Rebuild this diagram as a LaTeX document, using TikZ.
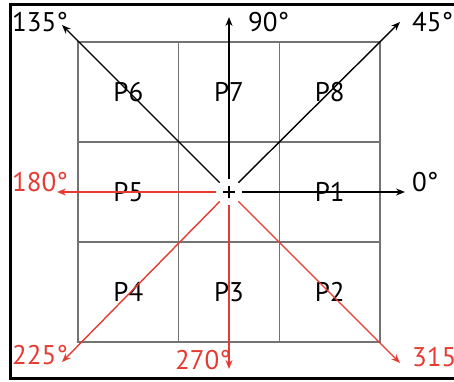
\documentclass[tikz,border=0pt]{standalone}
\usepackage{fontspec}
\setmainfont{PT Sans}
\usetikzlibrary{arrows.meta, positioning}
\definecolor{dirred}{RGB}{228,60,50}
\definecolor{gridgray}{RGB}{115,115,115}

\begin{document}
\begin{tikzpicture}[x=1pt, y=1pt, node distance=0pt, font=\fontsize{27}{30}\selectfont,
    cell/.style={draw=gridgray, line width=1.1pt, minimum width=100.67pt, minimum height=100pt, inner sep=0pt, outer sep=0pt},
    dir/.style={-{Stealth[length=9pt, width=7pt]}, line width=1.4pt},
    lbl/.style={inner sep=0pt}]
    \useasboundingbox (0,0) rectangle (454,381);
    \draw[line width=3pt] (10,3) rectangle (470,376);
    % 3x3 cells
    \node[cell] (pc) at (229,189) {};
    \node[cell, left=of pc] (p5) {P5};
    \node[cell, right=of pc] (p1) {P1};
    \node[cell, above=of pc] (p7) {P7};
    \node[cell, below=of pc] (p3) {P3};
    \node[cell, left=of p7] (p6) {P6};
    \node[cell, right=of p7] (p8) {P8};
    \node[cell, left=of p3] (p4) {P4};
    \node[cell, right=of p3] (p2) {P2};
    % centre with gap and cross
    \node[circle, fill=white, minimum size=26pt, inner sep=0pt] (o) at (pc.center) {};
    \draw[line width=1.3pt] ([xshift=-6pt]o.center) -- ([xshift=6pt]o.center);
    \draw[line width=1.3pt] ([yshift=-6pt]o.center) -- ([yshift=6pt]o.center);
    % arrow ends
    \coordinate (e0) at (405,189);
    \coordinate (e45) at (400,359);
    \coordinate (e90) at (229,364);
    \coordinate (e135) at (62,356);
    \coordinate (e180) at (57,189);
    \coordinate (e225) at (62,19);
    \coordinate (e270) at (229,12);
    \coordinate (e315) at (400,18);
    \draw[dir] (o) -- (e0);
    \draw[dir] (o) -- (e45);
    \draw[dir] (o) -- (e90);
    \draw[dir] (o) -- (e135);
    \draw[dir, dirred] (o) -- (e180);
    \draw[dir, dirred] (o) -- (e225);
    \draw[dir, dirred] (o) -- (e270);
    \draw[dir, dirred] (o) -- (e315);
    % angle labels
    \node[lbl, anchor=west] (l0) at (412,199) {0°};
    \node[lbl, anchor=west] (l45) at (412,359) {45°};
    \node[lbl, anchor=west] (l90) at (248,359) {90°};
    \node[lbl, anchor=west] (l135) at (12,359) {135°};
    \node[lbl, anchor=west, dirred] (l180) at (12,199) {180°};
    \node[lbl, anchor=west, dirred] (l225) at (12,26) {225°};
    \node[lbl, anchor=west, dirred] (l270) at (175,21) {270°};
    \node[lbl, anchor=west, dirred] (l315) at (412,24) {315°};
\end{tikzpicture}
\end{document}
